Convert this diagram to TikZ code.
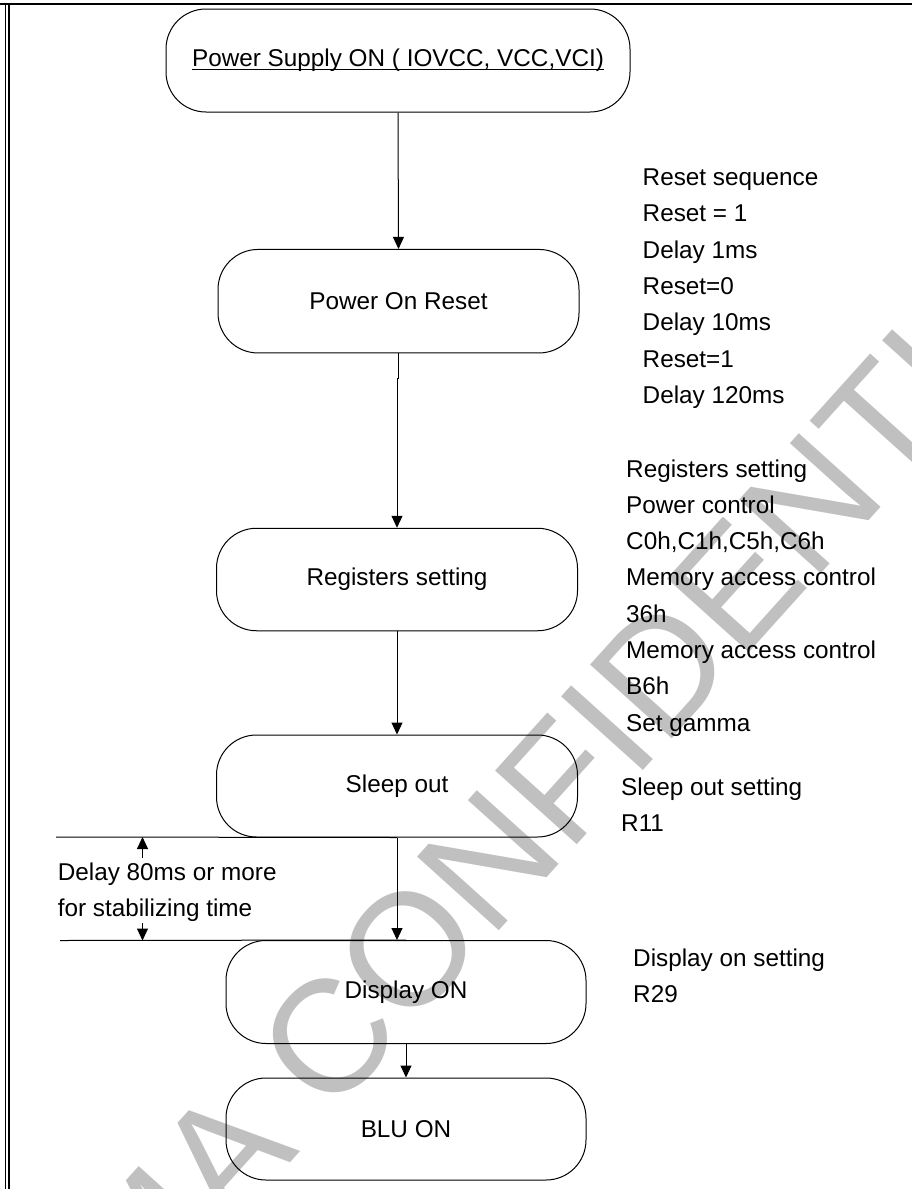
\documentclass[tikz,border=0pt]{standalone}
\usepackage{fontspec}
\setmainfont{Liberation Sans}
\usetikzlibrary{arrows.meta}
\definecolor{wmgray}{RGB}{192,192,192}
\newcommand\myul[1]{\setbox0\hbox{#1}\rlap{\usebox0}\rule[-3pt]{\wd0}{1.2pt}}
\begin{document}
\begin{tikzpicture}[x=1pt,y=-1pt,
  box/.style={draw, line width=1pt, rounded corners=40pt, minimum width=361pt, minimum height=102pt, inner sep=0pt, font=\fontsize{24.3}{30}\selectfont},
  arr/.style={line width=1pt, -{Triangle[length=12pt,width=11pt]}},
  note/.style={anchor=base west, align=left, inner sep=0pt, font=\fontsize{24.3}{36.3}\selectfont},
  rulex/.style={line width=1pt},
  wm/.style={text=wmgray, rotate=48, anchor=base west, inner sep=0pt, font=\fontsize{160}{160}\selectfont}]
\useasboundingbox (0,0) rectangle (912,1189);
% watermark
\begin{scope}
\clip (0,0) rectangle (912,1189);
\node[wm] (wmark) at (140,1330) {MA CONFIDENTIAL};
\end{scope}
% frame
\draw[line width=2pt] (0,3.7) -- (912,3.7);
\draw[line width=2.3pt] (9.2,3.7) -- (9.2,1189);
\draw[line width=0.8pt] (5.5,4.7) -- (5.5,1189);
% boxes
\node[box, minimum width=464pt, minimum height=103pt] (b1) at (398,60.5) {\myul{Power Supply ON ( IOVCC, VCC,VCI)}};
\node[box, minimum height=103.5pt] (b2) at (398.5,301.2) {Power On Reset};
\node[box, minimum height=102.5pt] (b3) at (397,579.5) {Registers setting};
\node[box] (b4) at (397,786) {Sleep out};
\node[box, minimum width=360pt, minimum height=103pt] (b5) at (406,992) {Display ON};
\node[box, minimum width=360pt] (b6) at (406,1129) {BLU ON};
% connectors
\draw[arr] (b1.south) -- (b2.north);
\draw[arr] (b2.south) -- ++(0,25.5) -- ++(-1.5,0) -- (b3.north);
\draw[arr] (b3.south) -- (b4.north);
\draw[arr] (b4.south) -- (b4.south |- b5.north);
\draw[arr] (b5.south) -- (b6.north);
% delay lines
\coordinate (l1) at (56,837);
\coordinate (l2) at (60,940.5);
\draw[rulex] (l1) -- (b4.south);
\draw[rulex] (l2) -- (b5.north);
\coordinate (u1) at (142.5,858);
\coordinate (d1) at (142.5,923);
\draw[arr] (u1) -- (u1 |- l1);
\draw[arr] (d1) -- (d1 |- l2);
% notes (anchored at the baseline of the last line)
\node[note] (n1) at (642.5,403.3) {Reset sequence\\Reset = 1\\Delay 1ms\\Reset=0\\Delay 10ms\\Reset=1\\Delay 120ms};
\node[note] (n2) at (626,731.1) {Registers setting\\Power control\\C0h,C1h,C5h,C6h\\Memory access control\\36h\\Memory access control\\B6h\\Set gamma};
\node[note] (n3) at (621,831.3) {Sleep out setting\\R11};
\node[note] (n4) at (633,1002.3) {Display on setting\\R29};
\node[note] (n5) at (57.6,916.3) {Delay 80ms or more\\for stabilizing time};
\end{tikzpicture}
\end{document}
